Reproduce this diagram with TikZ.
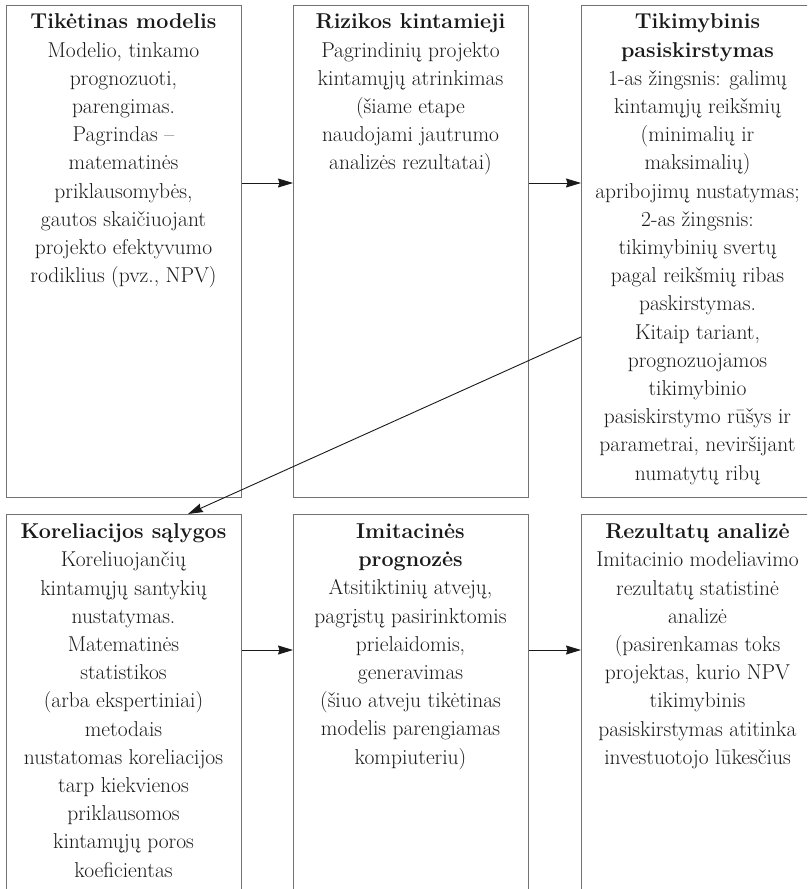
\documentclass[tikz,border=0pt]{standalone}
\usepackage{fontspec}
\usetikzlibrary{arrows.meta}
\begin{document}
\begin{tikzpicture}[x=1pt,y=-1pt,
  stagebox/.style={draw=black!55, line width=1pt, rectangle, inner sep=0pt,
    anchor=north west, minimum width=235pt},
  toprow/.style={stagebox, minimum height=492pt},
  lowrow/.style={stagebox, minimum height=400pt},
  stagetext/.style={anchor=north, inner sep=0pt, align=center, text=black!90,
    font=\fontsize{21.5}{28.2}\selectfont},
  flow/.style={draw=black!90, line width=0.9pt,
    -{Stealth[length=15pt,width=9pt,inset=1.5pt]}}]
\useasboundingbox (0,0) rectangle (807,889);
\clip (0,0) rectangle (807,889);

% stage frames
\node[toprow] (b1) at (6,5) {};
\node[toprow] (b2) at (293,5) {};
\node[toprow] (b3) at (581,5) {};
\node[lowrow] (b4) at (6,514) {};
\node[lowrow] (b5) at (293,514) {};
\node[lowrow] (b6) at (581,514) {};

% stage descriptions
\node[stagetext] (t1) at (123.5,13.8) {\textbf{Tikėtinas modelis}\\Modelio, tinkamo\\prognozuoti,\\parengimas.\\Pagrindas –\\matematinės\\priklausomybės,\\gautos skaičiuojant\\projekto efektyvumo\\rodiklius (pvz., NPV)};
\node[stagetext] (t2) at (410.5,13.8) {\textbf{Rizikos kintamieji}\\Pagrindinių projekto\\kintamųjų atrinkimas\\(šiame etape\\naudojami jautrumo\\analizės rezultatai)};
\node[stagetext] (t3) at (697.5,13.8) {\textbf{Tikimybinis}\\\textbf{pasiskirstymas}\\1-as žingsnis: galimų\\kintamųjų reikšmių\\(minimalių ir\\maksimalių)\\apribojimų nustatymas;\\2-as žingsnis:\\tikimybinių svertų\\pagal reikšmių ribas\\paskirstymas.\\Kitaip tariant,\\prognozuojamos\\tikimybinio\\pasiskirstymo rūšys ir\\parametrai, neviršijant\\numatytų ribų};
\node[stagetext] (t4) at (123.5,523.5) {\textbf{Koreliacijos sąlygos}\\Koreliuojančių\\kintamųjų santykių\\nustatymas.\\Matematinės\\statistikos\\(arba ekspertiniai)\\metodais\\nustatomas koreliacijos\\tarp kiekvienos\\priklausomos\\kintamųjų poros\\koeficientas};
\node[stagetext] (t5) at (410.5,523.5) {\textbf{Imitacinės}\\\textbf{prognozės}\\Atsitiktinių atvejų,\\pagrįstų pasirinktomis\\prielaidomis,\\generavimas\\(šiuo atveju tikėtinas\\modelis parengiamas\\kompiuteriu)};
\node[stagetext] (t6) at (697.5,523.5) {\textbf{Rezultatų analizė}\\Imitacinio modeliavimo\\rezultatų statistinė\\analizė\\(pasirenkamas toks\\projektas, kurio NPV\\tikimybinis\\pasiskirstymas atitinka\\investuotojo lūkesčius};

% connector levels
\coordinate (ytop) at (0,183);
\coordinate (ylow) at (0,650);
\coordinate (ydiag) at (0,337);
\coordinate (xdiag) at (188,0);

\draw[flow] (b1.east |- ytop) -- (b2.west |- ytop);
\draw[flow] (b2.east |- ytop) -- (b3.west |- ytop);
\draw[flow] (b3.west |- ydiag) -- (b4.north -| xdiag);
\draw[flow] (b4.east |- ylow) -- (b5.west |- ylow);
\draw[flow] (b5.east |- ylow) -- (b6.west |- ylow);
\end{tikzpicture}
\end{document}
